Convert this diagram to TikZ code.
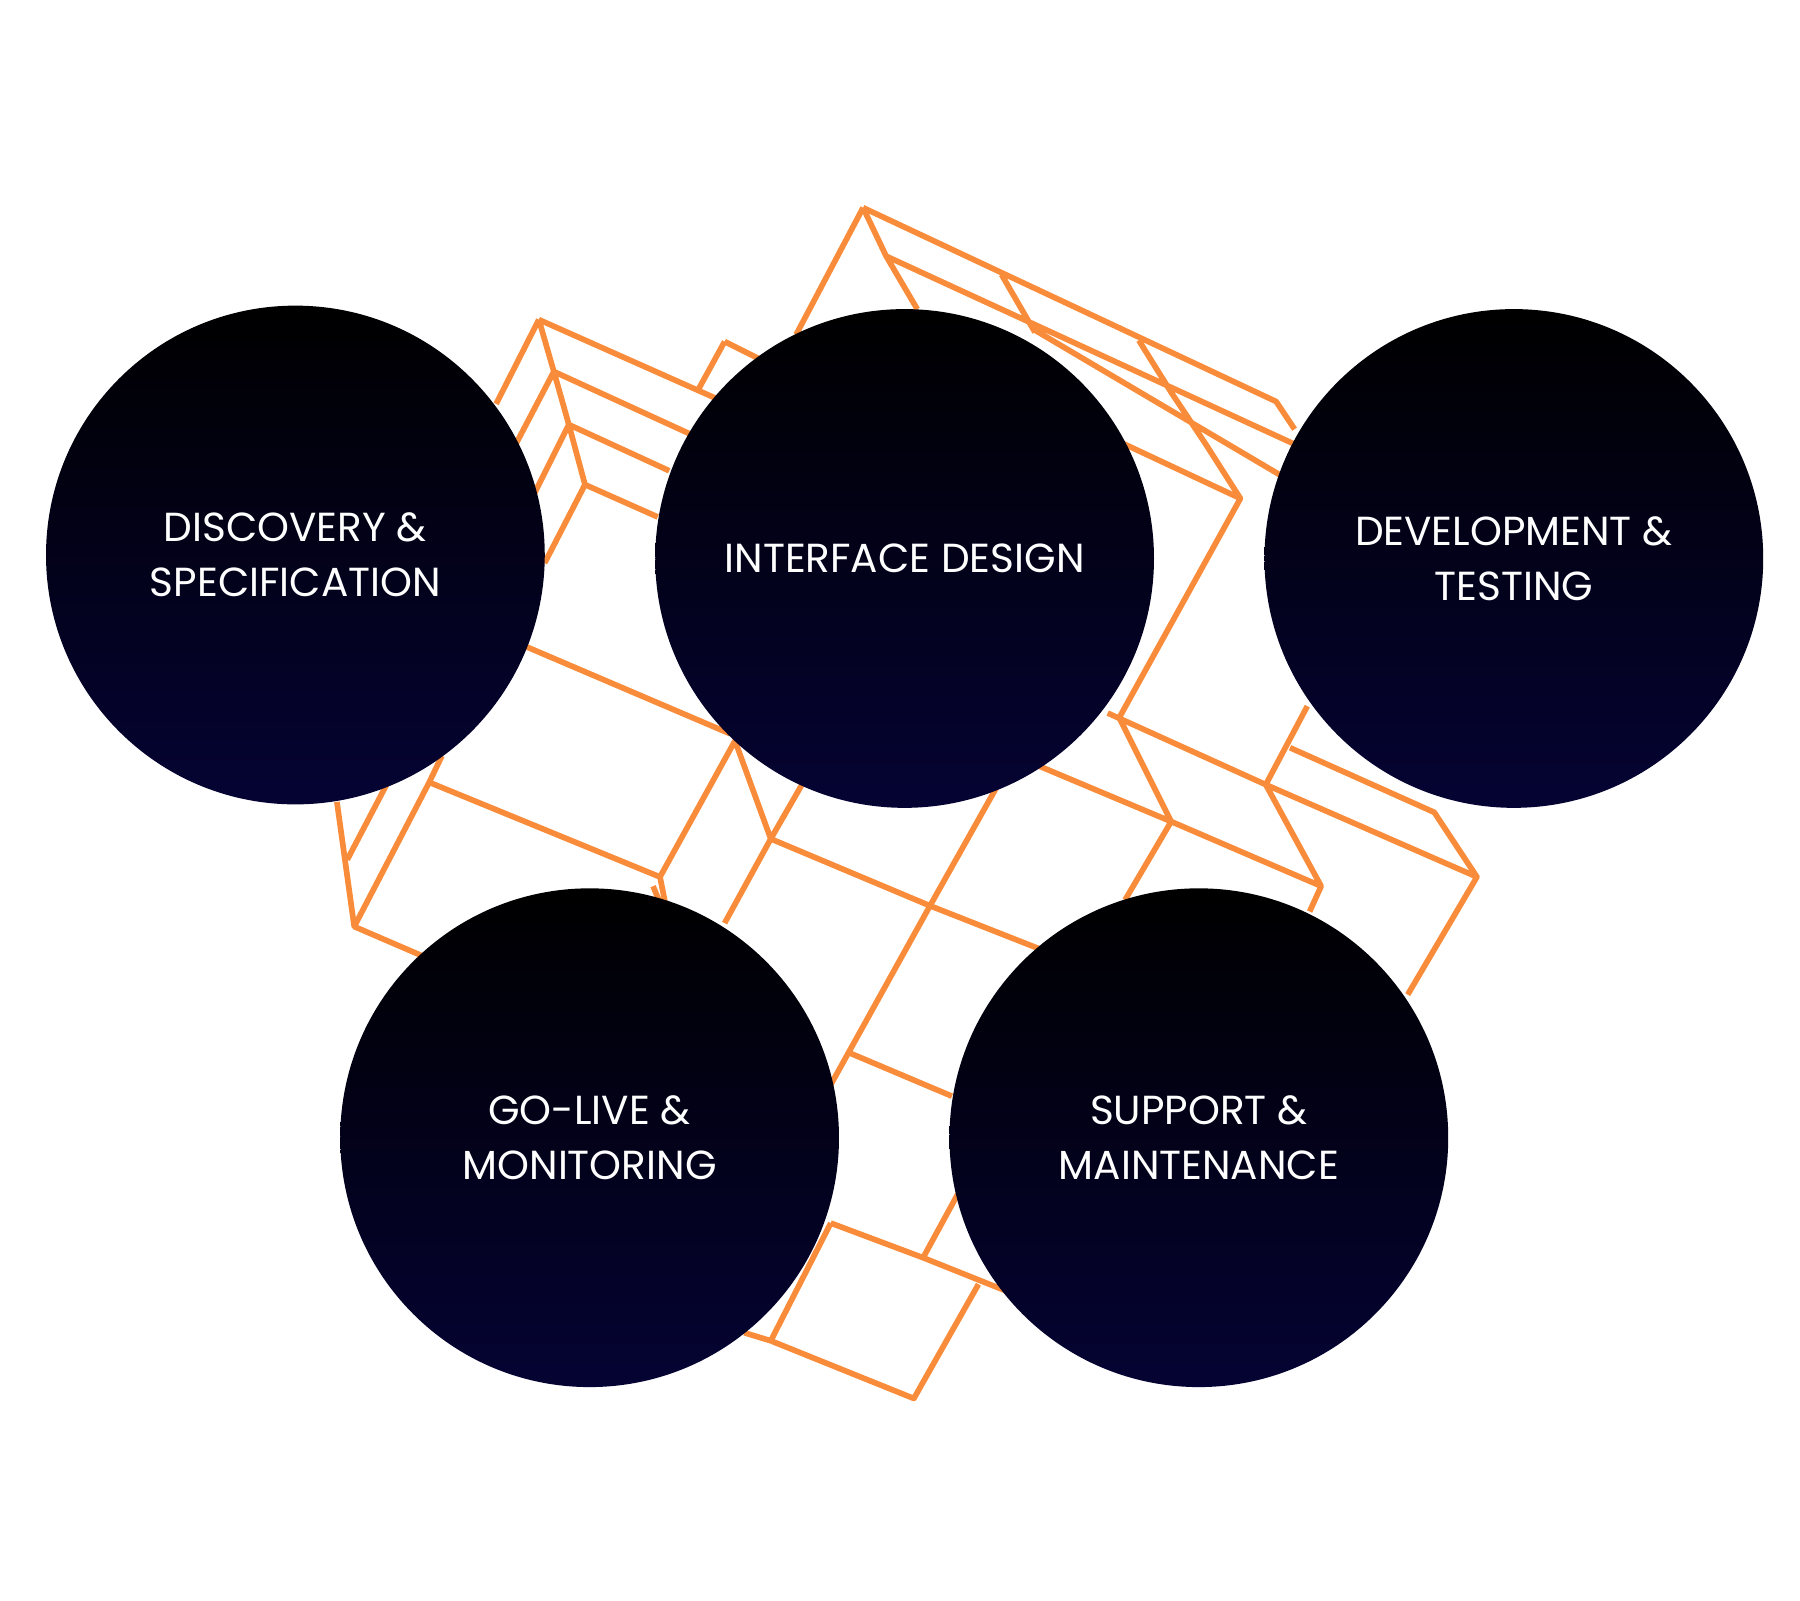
\documentclass[tikz,border=0pt]{standalone}
\usepackage{fontspec}
\setmainfont{Poppins}
\definecolor{lattice}{HTML}{F98C3A}
\definecolor{navy}{HTML}{050333}
\begin{document}
\begin{tikzpicture}[x=0.01cm,y=-0.01cm,
                stage/.style={circle,minimum size=4.32cm,inner sep=0pt,top color=black,bottom color=navy,
                text=white,align=center,font=\fontsize{10}{13.5}\selectfont},
                grid line/.style={draw=lattice,line width=1.4pt,line join=round}]
            \useasboundingbox (0,0) rectangle (1560,1387);

            % lattice behind the circles
            \path[grid line]
            (748,180) -- (1106,348) -- (1122,372)
            (768,222) -- (1122,385)
            (748,180) -- (768,222) -- (795,268)
            (748,180) -- (690,290)
            (868,238) -- (897,288)
            (987,295) -- (1015,340) -- (1045,385) -- (1075,432) -- (970,622)
            (895,285) -- (1110,412)
            (1075,432) -- (900,350)
            (970,622) -- (1015,712) -- (975,780)
            (960,618) -- (1097,680) -- (1280,760) -- (1220,862)
            (1097,680) -- (1145,768) -- (1135,790)
            (896,662) -- (1015,712) -- (1145,768)
            (1118,648) -- (1243,704) -- (1280,760)
            (1133,612) -- (1097,680)
            (467,277) -- (620,345)
            (467,277) -- (430,350)
            (480,322) -- (600,377)
            (467,277) -- (480,322) -- (493,368) -- (507,420)
            (493,368) -- (580,408)
            (507,420) -- (570,448)
            (480,322) -- (447,385)
            (493,368) -- (462,430)
            (507,420) -- (472,488)
            (628,296) -- (605,338)
            (628,296) -- (660,312)
            (455,560) -- (633,636)
            (383,655) -- (372,678) -- (572,760) -- (637,642)
            (372,678) -- (307,803) -- (292,695)
            (301,745) -- (335,680)
            (307,803) -- (365,828)
            (572,760) -- (580,800)
            (566,768) -- (575,790)
            (637,642) -- (668,727) -- (806,785) -- (900,822)
            (668,727) -- (695,680)
            (668,727) -- (628,800)
            (806,785) -- (865,680)
            (806,785) -- (720,940)
            (735,912) -- (825,950)
            (720,1060) -- (800,1090) -- (875,1120)
            (800,1090) -- (830,1035)
            (720,1060) -- (668,1162) -- (792,1212) -- (848,1113)
            (668,1162) -- (645,1155);

            \node[stage] (discovery) at (256,481) {DISCOVERY \&\\SPECIFICATION};
            \node[stage] (interface) at (784,484) {INTERFACE DESIGN};
            \node[stage] (development) at (1312,484) {DEVELOPMENT \&\\TESTING};
            \node[stage] (golive) at (511,986) {GO-LIVE \&\\MONITORING};
            \node[stage] (support) at (1039,986) {SUPPORT \&\\MAINTENANCE};

        \end{tikzpicture}
\end{document}
